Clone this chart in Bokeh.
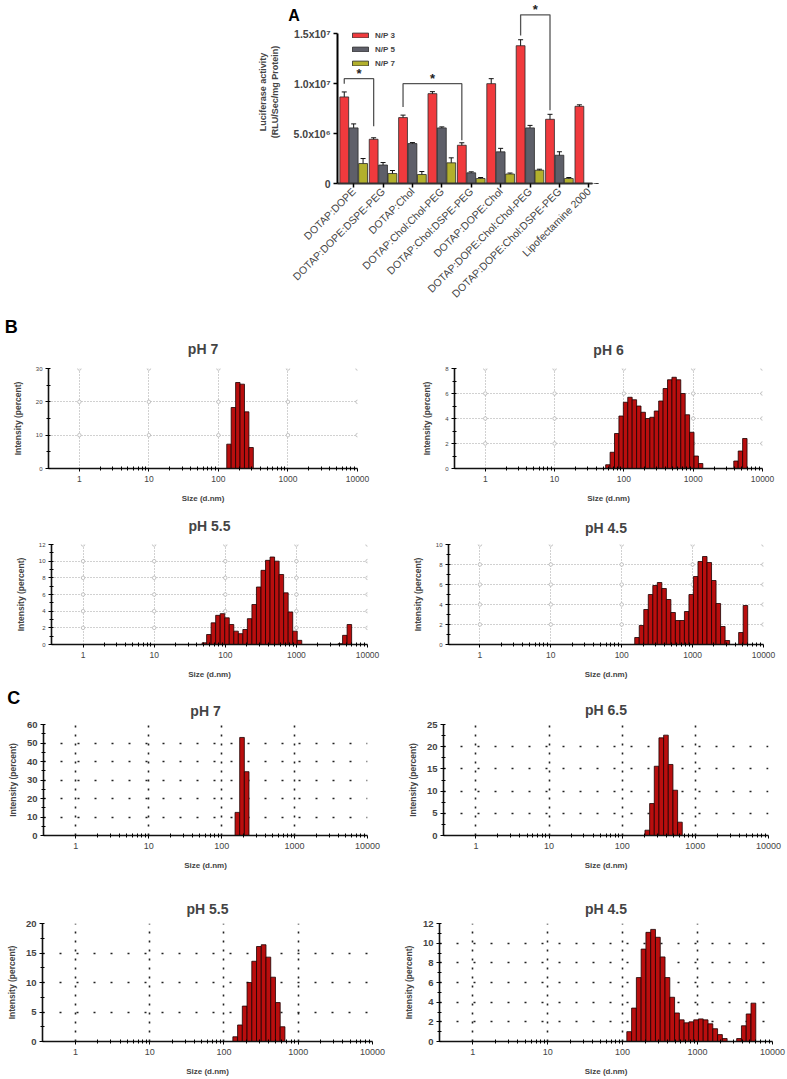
import numpy as np
from bokeh.plotting import figure
from bokeh.layouts import column, row
from bokeh.models import (ColumnDataSource, FixedTicker, Whisker, TeeHead, Title,
                          Legend, LegendItem, SingleIntervalTicker, Range1d)
from bokeh.embed import file_html
from bokeh.resources import INLINE

FONT = "Liberation Sans"

# ---------------- Panel A data ----------------
formulations = ["DOTAP:DOPE", "DOTAP:DOPE:DSPE-PEG", "DOTAP:Chol", "DOTAP:Chol:Chol-PEG",
                "DOTAP:Chol:DSPE-PEG", "DOTAP:DOPE:Chol", "DOTAP:DOPE:Chol:Chol-PEG",
                "DOTAP:DOPE:Chol:DSPE-PEG", "Lipofectamine 2000"]
series_names = ["N/P 3", "N/P 5", "N/P 7"]
np3 = [8.67e6, 4.43e6, 6.60e6, 9.00e6, 3.83e6, 1.00e7, 1.38e7, 6.43e6, 7.73e6]
np5 = [5.57e6, 1.85e6, 4.00e6, 5.57e6, 1.07e6, 3.17e6, 5.57e6, 2.83e6, 0.0]
np7 = [2.00e6, 1.00e6, 0.90e6, 2.07e6, 0.50e6, 0.95e6, 1.33e6, 0.50e6, 0.0]
err3 = [0.5e6, 0.15e6, 0.25e6, 0.2e6, 0.25e6, 0.5e6, 0.6e6, 0.5e6, 0.15e6]
err5 = [0.4e6, 0.25e6, 0.1e6, 0.1e6, 0.1e6, 0.35e6, 0.25e6, 0.35e6, 0.0]
err7 = [0.5e6, 0.3e6, 0.3e6, 0.5e6, 0.1e6, 0.1e6, 0.1e6, 0.1e6, 0.0]
y_ticks_a = [0, 5000000, 10000000, 15000000]
y_tick_labels_a = ["0", "5.0x10⁶", "1.0x10⁷", "1.5x10⁷"]
# significance brackets (between N/P 3 bars of two formulations)
sig_from = [0, 2, 6]
sig_to = [1, 4, 7]
sig_top = [10.5e6, 10.0e6, 16.9e6]
sig_from_end = [10.0e6, 7.66e6, 14.83e6]
sig_to_end = [5.73e6, 4.33e6, 7.33e6]

# ---------------- DLS data (size class centre in nm, intensity %) ----------------
BIN_RATIO = 1.1581  # ratio between neighbouring size classes
b_ph7_size = [141.8, 164.2, 190.1, 220.2, 255.0, 295.3]
b_ph7_int = [7.3, 18.3, 25.8, 25.3, 17.0, 6.3]
b_ph6_size = [58.77, 68.06, 78.82, 91.28, 105.7, 122.4, 141.8, 164.2, 190.1, 220.2, 255.0, 295.3,
              342.0, 396.1, 458.7, 531.2, 615.1, 712.4, 825.0, 955.4, 1106, 1281, 4145, 4801, 5560]
b_ph6_int = [0.3, 1.3, 2.8, 4.2, 5.3, 5.7, 5.5, 5.0, 4.5, 4.0, 4.1, 4.6,
             5.4, 6.4, 7.1, 7.3, 7.1, 6.0, 4.3, 2.9, 1.0, 0.4, 0.6, 1.4, 2.4]
b_ph55_size = [50.75, 58.77, 68.06, 78.82, 91.28, 105.7, 122.4, 141.8, 164.2, 190.1, 220.2, 255.0,
               295.3, 342.0, 396.1, 458.7, 531.2, 615.1, 712.4, 825.0, 955.4, 1106, 4145, 4801, 5560]
b_ph55_int = [0.2, 1.2, 2.6, 3.5, 3.7, 3.2, 2.4, 1.6, 1.3, 1.8, 3.1, 4.8,
              6.9, 8.9, 10.1, 10.5, 10.0, 8.4, 6.2, 3.9, 1.6, 0.5, 0.1, 1.1, 2.4]
b_ph45_size = [164.2, 190.1, 220.2, 255.0, 295.3, 342.0, 396.1, 458.7, 531.2, 615.1, 712.4, 825.0,
               955.4, 1106, 1281, 1484, 1718, 1990, 2305, 2669, 3091, 4801, 5560]
b_ph45_int = [0.7, 1.9, 3.5, 5.0, 5.9, 6.2, 5.6, 4.5, 3.2, 2.4, 2.4, 3.3,
              5.0, 6.8, 8.3, 8.8, 8.2, 6.4, 4.1, 1.8, 0.4, 1.2, 3.9]
c_ph7_size = [164.2, 190.1, 220.2]
c_ph7_int = [12.5, 53.0, 34.5]
c_ph65_size = [220.2, 255.0, 295.3, 342.0, 396.1, 458.7, 531.2, 615.1]
c_ph65_int = [1.2, 7.2, 15.6, 22.0, 22.6, 16.0, 10.2, 3.0]
c_ph55_size = [141.8, 164.2, 190.1, 220.2, 255.0, 295.3, 342.0, 396.1, 458.7, 531.2, 615.1]
c_ph55_int = [0.8, 2.8, 6.0, 10.0, 13.6, 16.1, 16.4, 14.3, 10.9, 6.6, 2.5]
c_ph45_size = [122.4, 141.8, 164.2, 190.1, 220.2, 255.0, 295.3, 342.0, 396.1, 458.7, 531.2, 615.1,
               712.4, 825.0, 955.4, 1106, 1281, 1484, 1718, 1990, 2305, 3580, 4145, 4801, 5560]
c_ph45_int = [1.0, 3.4, 6.5, 9.4, 11.1, 11.4, 10.6, 8.6, 6.5, 4.5, 2.9, 2.2,
              1.9, 2.0, 2.2, 2.3, 2.2, 1.8, 1.3, 0.7, 0.3, 0.3, 1.6, 2.8, 3.9]
x_decades = [1, 10, 100, 1000, 10000]
x_decade_labels = ["1", "10", "100", "1000", "10000"]


def panel_letter(txt, size_px, left_abs, cy_abs, frame_left, stack_bottom):
    """Panel letter drawn as an extra title stacked in the 'above' side panel."""
    h = 1.2 * size_px
    s = 2 * (stack_bottom - cy_abs - h / 2)
    kw = dict(text=txt, align="left", offset=left_abs - frame_left, text_font=FONT,
              text_font_size=f"{size_px}px", text_font_style="bold", text_color="black")
    try:
        return Title(standoff=s, **kw)
    except Exception:
        return Title(standoff=0, **kw)


# ================= Panel A =================
pa = figure(width=787, height=310, x_range=Range1d(-0.55, 8.33), y_range=Range1d(0, 1.833e7),
            output_backend="svg", toolbar_location=None, title=None,
            min_border_left=337, min_border_right=189, min_border_top=0, min_border_bottom=127)
pa.outline_line_color = None
pa.grid.visible = False

xi = np.arange(len(formulations))
offsets = [-0.32, 0.0, 0.32]
colors = ["#f03a3d", "#5e5f69", "#b2b02c"]
items = []
for name, vals, errs, col, off in zip(series_names, [np3, np5, np7], [err3, err5, err7], colors, offsets):
    v = np.array(vals)
    e = np.array(errs)
    src = ColumnDataSource(dict(x=xi + off, top=v, upper=v + e, lower=v - e))
    r = pa.vbar(x="x", top="top", width=0.30, source=src, fill_color=col,
                line_color="#2a2a2a", line_width=0.8)
    w = Whisker(source=src, base="x", upper="upper", lower="lower", line_color="#111111",
                line_width=1, level="underlay",
                upper_head=TeeHead(size=5, line_color="#111111", line_width=1),
                lower_head=TeeHead(size=5, line_color="#111111", line_width=1))
    pa.add_layout(w)
    items.append(LegendItem(label=name, renderers=[r]))

bx, by, sx, sy = [], [], [], []
for a, b, t, ea, eb in zip(sig_from, sig_to, sig_top, sig_from_end, sig_to_end):
    xa, xb = a + offsets[0], b + offsets[0]
    bx.append([xa, xa, xb, xb])
    by.append([ea, t, t, eb])
    sx.append((xa + xb) / 2)
    sy.append(t + 0.55e6)
pa.multi_line(bx, by, line_color="#555555", line_width=1.3)
pa.text(x=sx, y=sy, text=["*"] * len(sx), text_align="center", text_baseline="middle",
        text_font_size="13px", text_font_style="bold", text_color="#222222")

leg = Legend(items=items, location=(13, 115), border_line_color=None, background_fill_alpha=0,
             padding=0, margin=0, spacing=4, glyph_height=6, glyph_width=20, label_height=10,
             label_text_font=FONT, label_text_font_size="8px",
             label_text_font_style="bold", label_standoff=5)
pa.add_layout(leg)

pa.yaxis.ticker = FixedTicker(ticks=y_ticks_a)
pa.yaxis.major_label_overrides = dict(zip(y_ticks_a, y_tick_labels_a))
pa.yaxis.bounds = (0, 1.5e7)
pa.yaxis.axis_line_width = 2
pa.yaxis.major_tick_out = 4
pa.yaxis.major_tick_in = 0
pa.yaxis.minor_tick_out = 0
pa.yaxis.minor_tick_in = 0
pa.yaxis.major_tick_line_width = 1.5
pa.yaxis.major_label_standoff = 3
pa.yaxis.major_label_text_font = FONT
pa.yaxis.major_label_text_font_size = "10.5px"
pa.yaxis.major_label_text_font_style = "bold"
pa.yaxis.axis_label = "Luciferase activity\n(RLU/Sec/mg Protein)"
pa.yaxis.axis_label_text_font = FONT
pa.yaxis.axis_label_text_font_size = "9px"
pa.yaxis.axis_label_text_font_style = "bold"
pa.yaxis.axis_label_standoff = 11

pa.xaxis.ticker = FixedTicker(ticks=list(range(len(formulations))))
pa.xaxis.major_label_overrides = {i: f for i, f in enumerate(formulations)}
pa.xaxis.major_label_orientation = np.pi / 4
pa.xaxis.bounds = (-0.55, 8.12)
pa.xaxis.axis_line_width = 2
pa.xaxis.axis_line_color = "#333333"
pa.xaxis.major_tick_out = 4
pa.xaxis.major_tick_in = 0
pa.xaxis.major_tick_line_width = 1.5
pa.xaxis.minor_tick_out = 0
pa.xaxis.minor_tick_in = 0
pa.xaxis.major_label_standoff = 2
pa.xaxis.major_label_text_font = FONT
pa.xaxis.major_label_text_font_size = "10.5px"

pa.add_layout(panel_letter("A", 16, 287.5, 14, 336.7, 0), "above")


# ================= DLS panels =================
def dls(title, sizes, vals, ymax, ystep, box, frame, title_gap, style, letter=None):
    fl, ft, fw, fh = box
    L, R, T, B = frame
    p = figure(width=fw, height=fh, x_axis_type="log", x_range=Range1d(0.36, 10000),
               y_range=Range1d(0, ymax), output_backend="svg", toolbar_location=None,
               title=None,
               min_border_left=round(L - fl), min_border_right=round(fl + fw - R),
               min_border_top=round(T - ft), min_border_bottom=round(ft + fh - B))
    p.outline_line_color = None

    s1 = max(2 * (title_gap - 8.4), 0)
    p.add_layout(Title(text=title, align="center", text_font=FONT, text_font_size="14px",
                       text_font_style="bold", standoff=s1), "above")
    if letter is not None:
        txt, lx, cy = letter
        p.add_layout(panel_letter(txt, 18, lx, cy, L, T - 16.8 - s1), "above")

    minors = [m * d for d in x_decades[:-1] for m in range(2, 10)]
    p.xaxis.ticker = FixedTicker(ticks=x_decades, minor_ticks=minors)
    p.xaxis.major_label_overrides = dict(zip(x_decades, x_decade_labels))
    p.yaxis.ticker = SingleIntervalTicker(interval=ystep, num_minor_ticks=2)

    for ax in (p.xaxis[0], p.yaxis[0]):
        ax.axis_line_width = 1.6
        ax.axis_line_color = "#111111"
        ax.major_tick_in = 0
        ax.major_tick_out = 3
        ax.minor_tick_in = 2
        ax.minor_tick_out = 2
        ax.major_label_text_font = FONT
        ax.axis_label_text_font = FONT
        ax.axis_label_text_font_style = "bold"
    p.xaxis.axis_label = "Size (d.nm)"
    p.xaxis.axis_label_text_font_size = "8px"
    p.xaxis.major_label_text_font_size = "8.5px"
    p.xaxis.major_label_standoff = 4
    p.xaxis.axis_label_standoff = 9
    p.yaxis.axis_label = "Intensity (percent)"
    p.yaxis.axis_label_text_font_size = "8.5px"
    p.yaxis.major_label_standoff = 3

    if style == "B":
        p.yaxis.major_label_text_font_size = "6px"
        p.yaxis.axis_label_standoff = 10
        for g in (p.xgrid[0], p.ygrid[0]):
            g.grid_line_color = "#8a8a8a"
            g.grid_line_dash = "1 2"
            g.grid_line_width = 0.8
        yt = np.arange(ystep, ymax + ystep / 2, ystep)
        gx, gy = np.meshgrid(np.array(x_decades, dtype=float), yt)
        p.scatter(x=gx.ravel(), y=gy.ravel(), marker="circle", size=3.5, fill_color="white",
                  line_color="#a0a0a0", line_width=0.6)
    else:
        p.yaxis.major_label_text_font_size = "9.5px"
        p.yaxis.major_label_text_font_style = "bold"
        p.xaxis.major_label_text_font_size = "9px"
        p.yaxis.axis_label_standoff = 6
        p.xgrid.grid_line_color = "#222222"
        p.xgrid.grid_line_dash = "2 7"
        p.xgrid.grid_line_width = 1.6
        p.ygrid.grid_line_color = "#222222"
        p.ygrid.grid_line_dash = "2 15"
        p.ygrid.grid_line_width = 1.6

    s = np.array(sizes)
    half = np.sqrt(BIN_RATIO)
    p.quad(left=s / half, right=s * half, bottom=0, top=vals, fill_color="#b90e0e",
           line_color="#1c0000", line_width=0.8)
    return p


# frame tops within a row are aligned by the layout, so both use the lower value
b1 = dls("pH 7", b_ph7_size, b_ph7_int, 30, 10, (0, 310, 393, 195),
         (48.3, 357, 367.7, 467.7), 19.7, "B", ("B", 4.5, 327))
b2 = dls("pH 6", b_ph6_size, b_ph6_int, 8, 2, (393, 310, 394, 195),
         (454.3, 762.3, 367.7, 467.7), 18.7, "B")
b3 = dls("pH 5.5", b_ph55_size, b_ph55_int, 12, 2, (0, 505, 393, 183),
         (50.7, 366.7, 544.3, 644.3), 18.8, "B")
b4 = dls("pH 4.5", b_ph45_size, b_ph45_int, 10, 2, (393, 505, 394, 183),
         (448.3, 763.3, 544.3, 645), 17.3, "B")
c1 = dls("pH 7", c_ph7_size, c_ph7_int, 60, 10, (0, 688, 393, 187),
         (42.7, 366.7, 724.3, 836.7), 14.3, "C", ("C", 6.5, 698))
c2 = dls("pH 6.5", c_ph65_size, c_ph65_int, 25, 5, (393, 688, 394, 187),
         (443.3, 768.3, 724.3, 835), 15.3, "C")
c3 = dls("pH 5.5", c_ph55_size, c_ph55_int, 20, 5, (0, 875, 393, 204),
         (42.3, 371.7, 922.7, 1041), 15.2, "C")
c4 = dls("pH 4.5", c_ph45_size, c_ph45_int, 12, 2, (393, 875, 394, 204),
         (439.3, 771.7, 922.7, 1041), 15.2, "C")

layout = column(pa, row(b1, b2), row(b3, b4), row(c1, c2), row(c3, c4))
open("out.html", "w").write(file_html(layout, INLINE))
